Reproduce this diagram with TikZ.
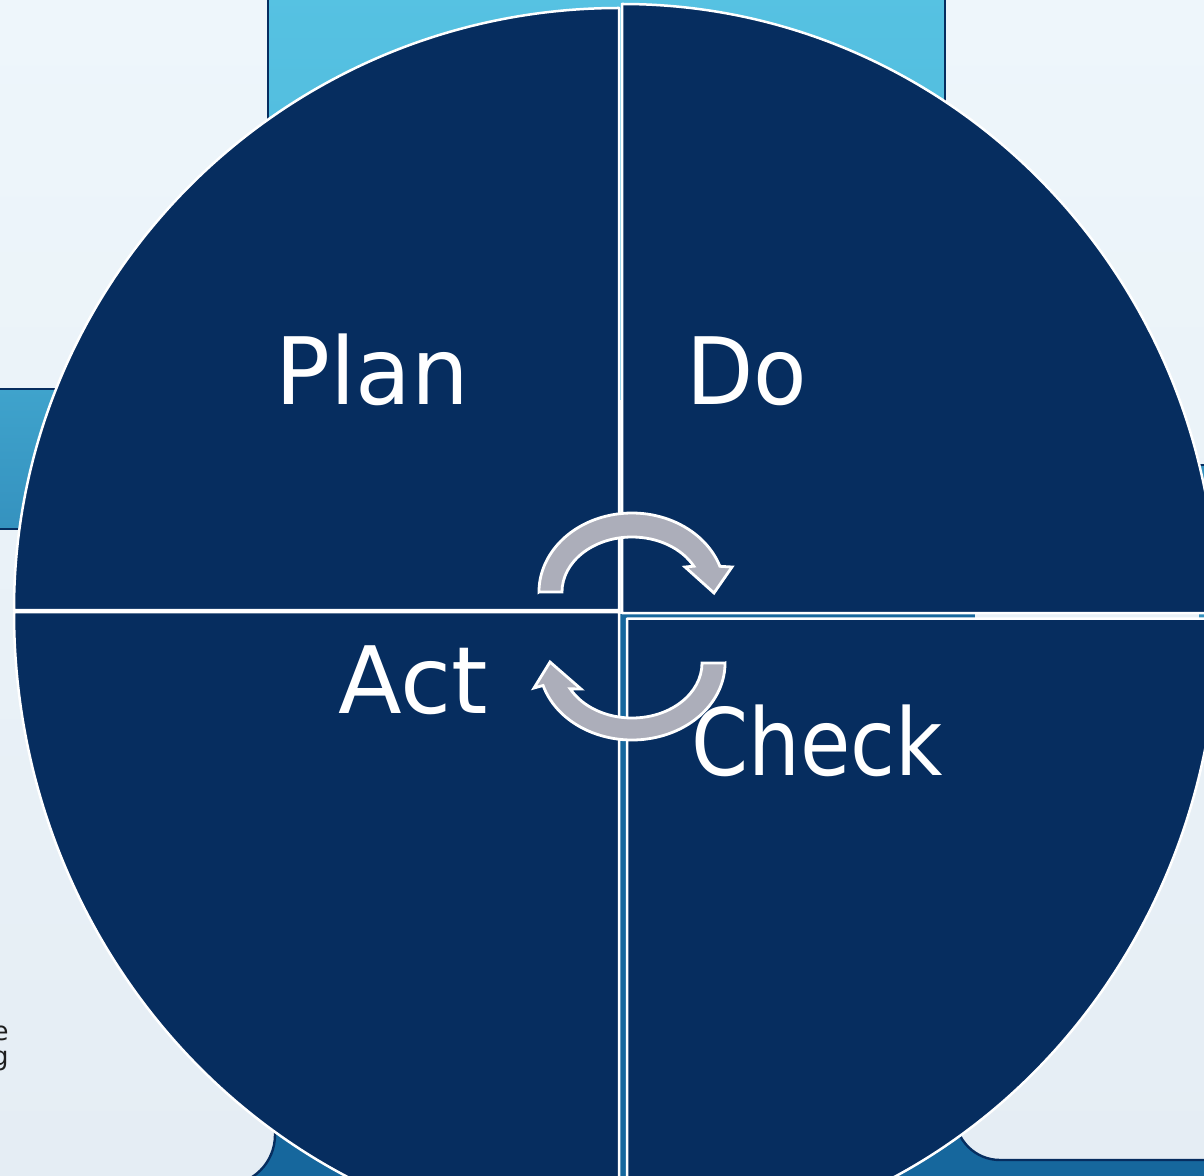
\documentclass[tikz,border=0pt]{standalone}
\usepackage{fontspec}
\setmainfont{DejaVu Sans}
\definecolor{navy}{HTML}{062D5F}
\definecolor{bgtop}{HTML}{EEF6FB}
\definecolor{bgbot}{HTML}{E5EDF4}
\definecolor{topblueA}{HTML}{56C2E2}
\definecolor{topblueB}{HTML}{4DB5DA}
\definecolor{leftA}{HTML}{3FA3CC}
\definecolor{leftB}{HTML}{3592BF}
\definecolor{bandblue}{HTML}{16679D}
\definecolor{arrowgray}{HTML}{ACAEBA}
\definecolor{tailtext}{HTML}{1E1E1E}
\begin{document}
\begin{tikzpicture}[x=0.5pt,y=0.5pt,
  sector/.style={fill=navy, draw=white, line width=1.25pt, line join=round},
  cyclearrow/.style={fill=arrowgray, draw=white, line width=1.4pt, line join=miter},
  lbl/.style={text=white, font=\fontsize{46.5}{52}\selectfont, inner sep=0pt, anchor=base},
  tail/.style={text=tailtext, font=\fontsize{13}{15}\selectfont, inner sep=0pt, anchor=base east},
  boxedge/.style={draw=navy, line width=1.2pt}]
\useasboundingbox (0,0) rectangle (1204,-1176);
\clip (0,0) rectangle (1204,-1176);
% background
\shade[top color=bgtop, bottom color=bgbot] (0,0) rectangle (1204,-1176);
% boxes behind the cycle
\shade[top color=topblueA, bottom color=topblueB] (268,10) rectangle (945,-400);
\draw[boxedge] (268,10) -- (268,-400) (945,10) -- (945,-400);
\shade[top color=leftA, bottom color=leftB] (-10,-389) rectangle (300,-529);
\draw[boxedge] (-10,-389) -- (300,-389) (-10,-529) -- (300,-529);
\fill[leftB] (1199,-465) rectangle (1300,-700);
\draw[boxedge] (1199,-465) -- (1300,-465);
% lower band
\fill[bandblue] (600,-614) rectangle (975,-1100);
\fill[bandblue] (275,-1000) -- (275,-1135) arc[start angle=0,end angle=-90,radius=50]
  -- (1300,-1185) -- (1300,-1160) -- (1000,-1160)
  arc[start angle=270,end angle=180,radius=45] -- (955,-1000) -- cycle;
\draw[boxedge] (275,-1050) -- (275,-1135) arc[start angle=0,end angle=-90,radius=50];
\draw[boxedge] (1300,-1160) -- (1000,-1160) arc[start angle=270,end angle=180,radius=45] -- (955,-1050);
% cut-off text on the left
\node[tail] (tailA) at (9,-1040) {e};
\node[tail] (tailB) at (9,-1065) {g};
% four sectors
\path[sector] (619,-610) -- (14,-610) arc[start angle=180,end angle=90,x radius=605,y radius=602] -- cycle;
\path[sector] (622,-613) -- (622,-4) arc[start angle=90,end angle=0,x radius=595,y radius=609] -- cycle;
\path[sector] (619,-612) -- (14,-612) arc[start angle=180,end angle=270,x radius=605,y radius=632] -- cycle;
\path[sector] (627,-618.5) -- (1218,-618.5) arc[start angle=0,end angle=-90,x radius=591,y radius=626] -- cycle;
% cycle arrows
\path[cyclearrow] (539,-592) -- (562,-592)
  arc[start angle=180,end angle=28,x radius=70,y radius=55]
  -- (685,-567) -- (714,-593) -- (732,-567) -- (719.9,-566.3)
  arc[start angle=19,end angle=180,x radius=93,y radius=79] -- cycle;
\path[cyclearrow] (725,-663) -- (702,-663)
  arc[start angle=0,end angle=-152,x radius=70,y radius=55]
  -- (581,-689) -- (550,-662) -- (534,-688) -- (543.1,-685.5)
  arc[start angle=-163,end angle=0,x radius=93,y radius=77] -- cycle;
% labels
\node[lbl] (plan) at (372.5,-405) {\scalebox{0.98}[1]{Plan}};
\node[lbl] (do) at (746.5,-405) {\scalebox{0.94}[1]{Do}};
\node[lbl] (act) at (413.5,-713) {Act};
\node[lbl] (check) at (817,-775) {\scalebox{0.88}[1]{Check}};
\end{tikzpicture}
\end{document}
